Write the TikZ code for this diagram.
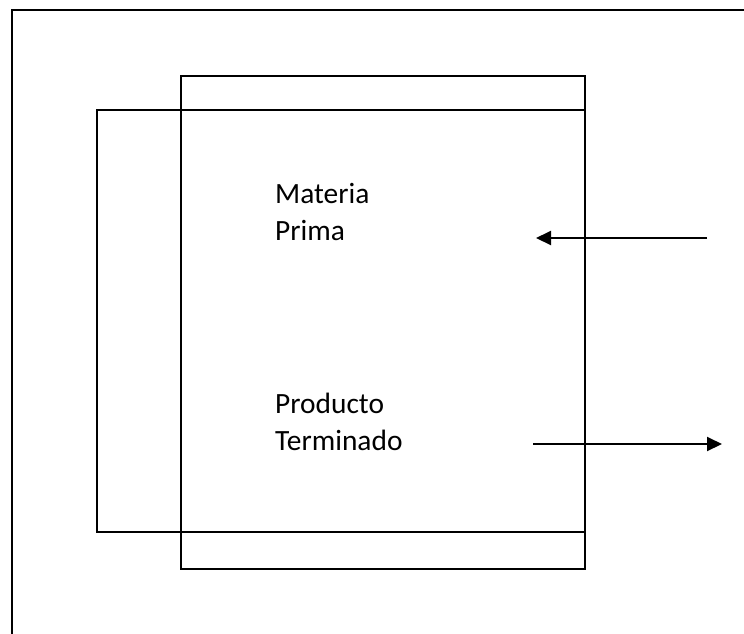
\documentclass[tikz,border=0pt]{standalone}
\usepackage{fontspec}
\setmainfont{Carlito}
\usetikzlibrary{arrows.meta}
\tikzset{
  frame/.style={line width=2pt},
  label/.style={font=\fontsize{29.4}{37}\selectfont, align=left, anchor=base west, inner sep=0pt},
  flow/.style={line width=2pt, -{Triangle[length=15pt,width=14pt]}}
}
\begin{document}
\begin{tikzpicture}[x=1pt,y=-1pt]
  \useasboundingbox (0,0) rectangle (744,633);
  % page frame, open to the right and bottom
  \draw[frame] (12,640) -- (12,10) -- (750,10);
  % tall inner box and wide box crossing it
  \draw[frame] (181,76) rectangle (585,569);
  \draw[frame] (97,110) rectangle (585,532);
  % labels (anchored on the baseline of their last line)
  \node[label] (mp) at (275,240) {Materia\\Prima};
  \node[label] (pt) at (275,450) {Producto\\Terminado};
  % flows in and out
  \coordinate (inS) at (707,238);
  \coordinate (inE) at (536,238);
  \coordinate (outS) at (533,444);
  \coordinate (outE) at (722,444);
  \draw[flow] (inS) -- (inE);
  \draw[flow] (outS) -- (outE);
\end{tikzpicture}
\end{document}
